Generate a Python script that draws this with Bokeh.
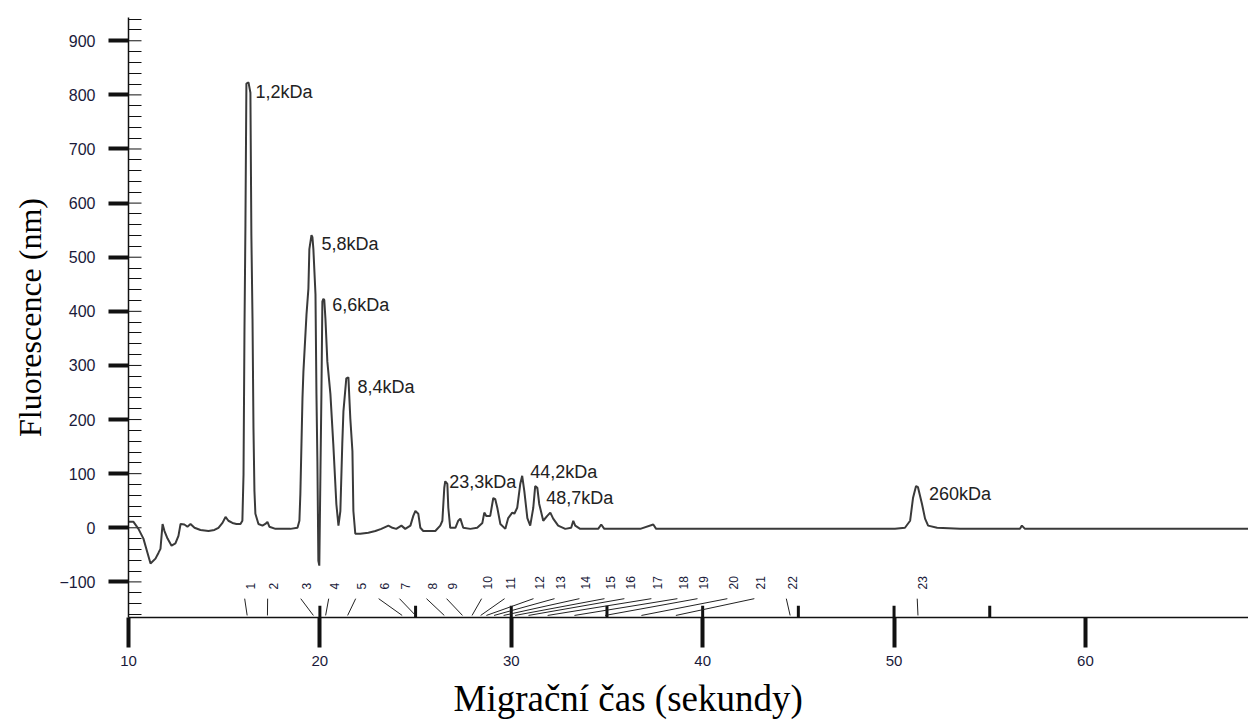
import numpy as np
from bokeh.plotting import figure
from bokeh.models import Range1d, FixedTicker, Title
from bokeh.embed import file_html
from bokeh.resources import INLINE
from bokeh.core.properties import value

# ---- electropherogram trace (migration time in s, fluorescence) ----
time_s = [10.00, 10.26, 10.52, 10.78, 10.99, 11.15, 11.41, 11.57, 11.67, 11.78, 11.88, 12.04, 12.25, 12.45,
          12.61, 12.72, 12.92, 13.08, 13.24, 13.45, 13.76, 14.18, 14.49, 14.70, 14.91, 15.07, 15.22, 15.43,
          15.64, 15.85, 15.95, 16.01, 16.06, 16.11, 16.16, 16.27, 16.37, 16.42, 16.48, 16.53, 16.58, 16.63,
          16.79, 17.00, 17.15, 17.26, 17.36, 17.68, 18.46, 18.83, 18.93, 18.98, 19.09, 19.14, 19.30, 19.40,
          19.45, 19.56, 19.61, 19.66, 19.77, 19.82, 19.87, 19.92, 19.97, 20.03, 20.08, 20.13, 20.18, 20.23,
          20.29, 20.39, 20.55, 20.70, 20.86, 20.97, 21.07, 21.17, 21.23, 21.38, 21.49, 21.59, 21.70, 21.75,
          21.85, 22.11, 22.53, 22.90, 23.21, 23.58, 23.79, 23.99, 24.26, 24.46, 24.73, 24.88, 24.99, 25.14,
          25.25, 25.40, 26.03, 26.29, 26.40, 26.50, 26.55, 26.66, 26.71, 26.81, 27.08, 27.23, 27.34, 27.49,
          27.86, 28.22, 28.49, 28.59, 28.69, 28.90, 29.06, 29.16, 29.27, 29.43, 29.69, 29.84, 30.05, 30.16,
          30.31, 30.47, 30.57, 30.68, 30.84, 30.99, 31.15, 31.25, 31.36, 31.46, 31.67, 31.88, 32.04, 32.19,
          32.45, 32.82, 33.13, 33.24, 33.34, 33.60, 34.54, 34.70, 34.86, 35.69, 36.74, 37.42, 37.57, 39.35,
          40.91, 43.00, 45.09, 47.70, 50.05, 50.57, 50.84, 50.99, 51.15, 51.25, 51.46, 51.62, 51.78, 52.25,
          53.45, 56.58, 56.68, 56.84, 68.52]
fluor = [11, 11, -2, -20, -46, -66, -57, -46, -39, 7, -6, -20, -33, -29,
         -15, 7, 6, 2, 7, 0, -4, -6, -4, 0, 9, 20, 13, 9,
         7, 7, 13, 99, 368, 560, 821, 823, 804, 541, 386, 184, 68, 26,
         7, 4, 7, 11, 2, -2, -2, 0, 13, 63, 239, 289, 394, 442,
         515, 541, 537, 515, 431, 247, 123, -61, -70, 105, 247, 418, 423, 421,
         386, 307, 247, 155, 44, 4, 31, 155, 215, 276, 278, 202, 142, 31,
         -11, -11, -9, -6, -2, 4, 0, -2, 4, -2, 4, 22, 31, 26,
         0, -6, -6, 4, 13, 74, 86, 81, 37, 0, 0, 13, 17, 0,
         -2, 0, 9, 28, 22, 22, 55, 53, 37, 7, -2, 18, 28, 26,
         37, 81, 96, 68, 18, 4, 37, 77, 74, 44, 13, 22, 28, 17,
         4, -2, 0, 13, 4, -2, -2, 6, -2, -2, -2, 6, -2, -2,
         -2, -2, -2, -2, -2, 0, 13, 55, 77, 75, 44, 17, 4, 0,
         -2, -2, 4, -2, -2]

# ---- peak annotations ----
peak_names = ["1,2kDa", "5,8kDa", "6,6kDa", "8,4kDa", "23,3kDa", "44,2kDa", "48,7kDa", "260kDa"]
peak_label_t = [16.63, 20.08, 20.65, 21.96, 26.76, 30.99, 31.83, 51.83]
peak_label_f = [806, 525, 412, 260, 85, 103, 55, 63]

# ---- ladder markers (numbered) ----
marker_ids = ["1", "2", "3", "4", "5", "6", "7", "8", "9", "10", "11", "12",
              "13", "14", "15", "16", "17", "18", "19", "20", "21", "22", "23"]
marker_pos = [16.2, 17.26, 19.66, 20.3, 21.45, 24.3, 25.0, 26.5, 27.45, 27.95, 28.4, 28.7,
              29.1, 29.6, 30.2, 30.9, 31.9, 33.3, 34.9, 36.8, 38.6, 44.57, 51.25]
marker_label_pos = [16.37, 17.57, 19.3, 20.76, 22.17, 23.37, 24.46, 25.87, 26.92, 28.75, 29.95, 31.46,
                    32.56, 33.86, 35.17, 36.21, 37.62, 38.98, 40.03, 41.59, 43.0, 44.67, 51.51]

# ---- ticks ----
x_ticks = [10, 20, 30, 40, 50, 60]
ladder_ticks = [20, 25, 30, 35, 40, 45, 50, 55]
y_ticks = [-100, 0, 100, 200, 300, 400, 500, 600, 700, 800, 900]
y_minor = [v for v in range(-160, 941, 20) if v % 100 != 0]

YMIN, YMAX = -165.8, 943
XMIN, XMAX = 10, 68.52

p = figure(width=1248, height=728, x_range=Range1d(XMIN, XMAX), y_range=Range1d(YMIN, YMAX),
           output_backend="svg", toolbar_location=None,
           min_border_left=128, min_border_right=0, min_border_top=17, min_border_bottom=111)
p.outline_line_color = None
p.xgrid.visible = False
p.ygrid.visible = False
p.background_fill_color = "white"
p.border_fill_color = "white"

tick_col = "#1a1a3a"
ax_col = "#111111"

# x axis
xa = p.xaxis[0]
xa.ticker = FixedTicker(ticks=x_ticks, minor_ticks=[])
xa.axis_line_color = ax_col
xa.axis_line_width = 1.5
xa.major_tick_line_color = ax_col
xa.major_tick_line_width = 4
xa.major_tick_out = 30
xa.major_tick_in = 0
xa.major_label_text_font = "Liberation Sans"
xa.major_label_text_font_size = "15px"
xa.major_label_text_color = tick_col
xa.major_label_standoff = 8

# x axis title, centred on the whole picture as in the original
p.add_layout(Title(text="Migrační čas (sekundy)", align="left", offset=325, standoff=14,
                   text_font="Liberation Serif", text_font_size="37px", text_font_style="normal",
                   text_color="#000000"), "below")

# y axis
ya = p.yaxis[0]
ya.ticker = FixedTicker(ticks=y_ticks, minor_ticks=y_minor)
ya.axis_line_color = ax_col
ya.axis_line_width = 1.5
ya.major_tick_line_color = ax_col
ya.major_tick_line_width = 4
ya.major_tick_out = 20
ya.major_tick_in = 0
ya.minor_tick_line_color = ax_col
ya.minor_tick_line_width = 1
ya.minor_tick_in = 13
ya.minor_tick_out = 0
ya.major_label_text_font = "Liberation Sans"
ya.major_label_text_font_size = "16px"
ya.major_label_text_color = tick_col
ya.major_label_standoff = 13
ya.axis_label = "Fluorescence (nm)"
ya.axis_label_text_font = "Liberation Serif"
ya.axis_label_text_font_style = "normal"
ya.axis_label_text_font_size = "32px"
ya.axis_label_text_color = "#000000"
ya.axis_label_standoff = 8

# inward ticks at the labelled y values
p.segment(x0=[XMIN] * len(y_ticks), y0=y_ticks, x1=[XMIN + 0.68] * len(y_ticks), y1=y_ticks,
          line_color=ax_col, line_width=1)

# short inward ticks of the ladder scale on the x axis
p.segment(x0=ladder_ticks, y0=[YMIN] * len(ladder_ticks), x1=ladder_ticks, y1=[-144] * len(ladder_ticks),
          line_color=ax_col, line_width=3)

# ladder marker connectors and numbers
p.segment(x0=[v - 0.3 for v in marker_label_pos], y0=[-131] * len(marker_pos),
          x1=marker_pos, y1=[-162] * len(marker_pos), line_color="#222222", line_width=1)
p.text(x=marker_label_pos, y=[-114] * len(marker_ids), text=marker_ids, angle=np.pi / 2,
       text_align="left", text_baseline="middle", text_font=value("Liberation Sans"),
       text_font_size="12px", text_color=tick_col)

# trace
p.line(time_s, fluor, line_color="#3a3a3a", line_width=2)

# peak labels
p.text(x=peak_label_t, y=peak_label_f, text=peak_names, text_align="left", text_baseline="middle",
       text_font=value("Liberation Sans"), text_font_size="18px", text_color="#222222")

open("out.html", "w").write(file_html(p, INLINE))
